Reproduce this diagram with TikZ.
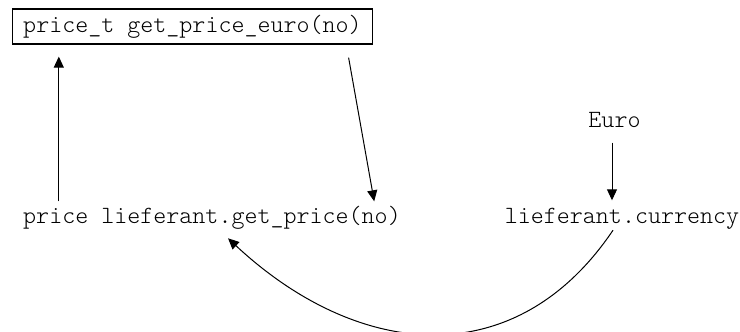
\documentclass[tikz,border=0pt]{standalone}
\usepackage{fontspec}
\setmonofont{Latin Modern Mono Light}
\usetikzlibrary{arrows.meta,positioning,calc}
\tikzset{
  code/.style={font=\ttfamily\fontsize{12.4}{14}\selectfont,inner sep=0pt,anchor=base},
  codeblk/.style={code,anchor=center,draw,line width=0.6pt,minimum width=180pt,minimum height=17.5pt},
  arr/.style={-{Triangle[length=5.5pt,width=5pt]},line width=0.5pt}
}
\begin{document}
\begin{tikzpicture}[x=0.5pt,y=0.5pt]
  \useasboundingbox (0,0) rectangle (740,332);

  \node[codeblk] (getEuro) at (192.5,305.5) {price\_t get\_price\_euro(no)};
  \node[code] (getPrice) at (212,108) {price lieferant.get\_price(no)};
  \node[code] (currency) at (622,108) {lieferant.currency};
  \node[code] (euro) at (614.5,204) {Euro};

  \draw[arr,shorten >=6pt] ([xshift=18pt,yshift=2.5pt]getPrice.north west) -- ([xshift=18pt]getPrice.north west |- getEuro.south);
  \draw[arr] ([xshift=-12.25pt,yshift=-6.5pt]getEuro.south east) -- ([xshift=-13.5pt,yshift=2.5pt]getPrice.north east);
  \draw[arr,shorten <=7pt,shorten >=4pt] ([xshift=-1.25pt]euro.south) -- ([xshift=-1.25pt]euro.south |- currency.north);
  \draw[arr] ([xshift=-4.5pt]currency.south) to[out=-124,in=-43,distance=88pt] ([xshift=8pt,yshift=-4pt]getPrice.south);
\end{tikzpicture}
\end{document}
